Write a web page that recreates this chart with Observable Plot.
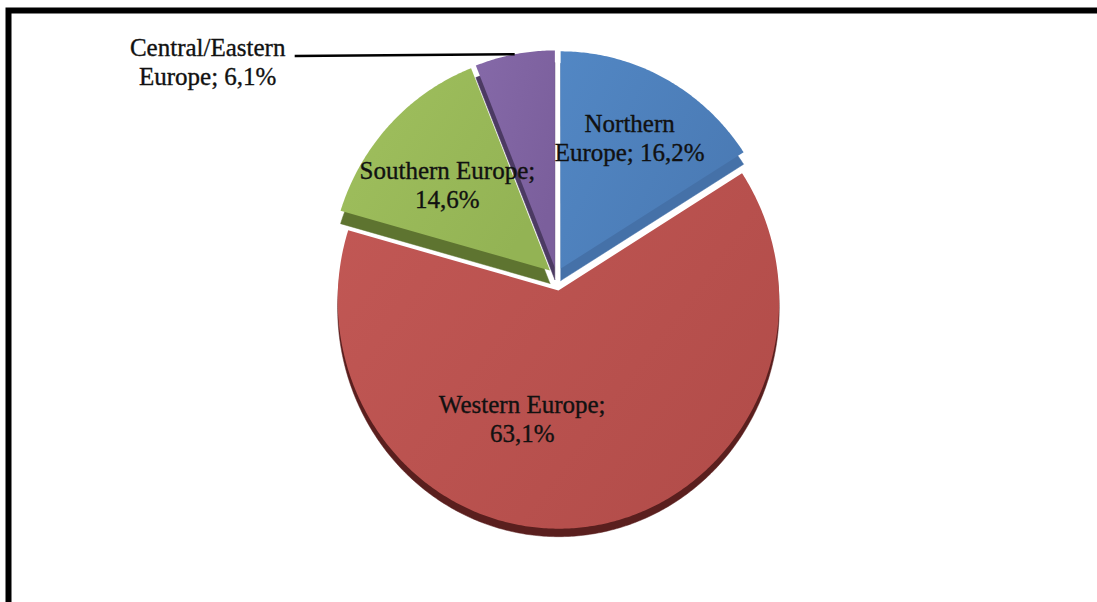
<!DOCTYPE html>
<html>
<head>
<meta charset="utf-8">
<script src="https://cdn.jsdelivr.net/npm/d3@7"></script>
<script src="https://cdn.jsdelivr.net/npm/@observablehq/plot@0.6"></script>
<style>
  html, body { margin: 0; padding: 0; background: #fff; overflow: hidden; }
</style>
</head>
<body>
<div id="chart"></div>
<script>
// ---------------- data ----------------
const regions = ["Northern Europe", "Western Europe", "Southern Europe", "Central/Eastern Europe"];
const shares = [16.2, 63.1, 14.6, 6.1];
const labelTexts = ["Northern\nEurope; 16,2%", "Western Europe;\n63,1%", "Southern Europe;\n14,6%", "Central/Eastern\nEurope; 6,1%"];

// ---------------- layout / style ----------------
const W = 1097, H = 602;
const C = {x: 556, y: 276};      // pie centre (px)
const S = {x: 220, y: 227};      // pie radii (px)
const K = 0.042;                 // slight perspective (front looks larger)
const explode = [0.04, 0.062, 0.04, 0.04];
const depthPx = [12, 8, 13, 12];
const faceGrad = [["#5287c4", "#4a7ab4"], ["#c25855", "#b34d4a"], ["#a0c05e", "#93b354"], ["#8569a8", "#7b5f9c"]];
const sideColors = ["#4571a8", "#5a1f1e", "#5e7430", "#4c3a63"];
const drawOrder = [2, 3, 0, 1];
// label placement: radius fraction & angular nudge (deg); null = outside label with leader
const labelPlace = [{r: 0.66, turn: 0}, {r: 0.586, turn: 24}, {r: 0.6, turn: -4}, null];
const insideDy = -4;
const outside = {endX: -1.19, dx: -87, dy: 5};

const project = (u, v) => { const f = 1 / (1 - K * v); return [u * f, v * f]; };

const arcs = d3.pie().sort(null).value(d => d)(shares);
const faces = [], sides = [], labels = [], leaders = [];

arcs.forEach((a, i) => {
  const m = (a.startAngle + a.endAngle) / 2;
  const ox = Math.sin(m) * explode[i], oy = -Math.cos(m) * explode[i];
  const depth = depthPx[i] / S.y;
  const raw = [[ox, oy]];
  const n = Math.max(8, Math.ceil((a.endAngle - a.startAngle) / 0.01));
  for (let k = 0; k <= n; k++) {
    const t = a.startAngle + (a.endAngle - a.startAngle) * k / n;
    raw.push([ox + Math.sin(t), oy - Math.cos(t)]);
  }
  raw.push([ox, oy]);
  raw.forEach(([u, v], j) => {
    const [x, y] = project(u, v);
    faces.push({i, j, x, y});
    sides.push({i, j, x, y: y + depth});
  });
  const lp = labelPlace[i];
  if (lp) {
    const ang = m + lp.turn * Math.PI / 180;
    const [x, y] = project(ox + lp.r * Math.sin(ang), oy - lp.r * Math.cos(ang));
    labels.push({text: labelTexts[i], x, y, dx: 0, dy: insideDy});
  } else {
    const [x1, y1] = project(ox + Math.sin(m), oy - Math.cos(m));
    const x2 = outside.endX, y2 = y1 + 0.008;
    leaders.push({x1, y1, x2, y2});
    labels.push({text: labelTexts[i], x: x2, y: y2, dx: outside.dx, dy: outside.dy});
  }
});

// gradient definitions for the slice tops (subtle Office-style shading)
const defs = () => {
  const g = d3.create("svg:defs");
  faceGrad.forEach(([c0, c1], i) => {
    const lg = g.append("linearGradient").attr("id", "face" + i)
      .attr("x1", "0").attr("y1", "0").attr("x2", "1").attr("y2", "0.6");
    lg.append("stop").attr("offset", "0%").attr("stop-color", c0);
    lg.append("stop").attr("offset", "100%").attr("stop-color", c1);
  });
  return g.node();
};

const marks = [defs];
for (const i of drawOrder) {
  marks.push(Plot.line(sides.filter(d => d.i === i), {x: "x", y: "y", fill: sideColors[i], stroke: sideColors[i], strokeWidth: 0.5}));
  marks.push(Plot.line(faces.filter(d => d.i === i), {x: "x", y: "y", fill: `url(#face${i})`, stroke: "none"}));
}
marks.push(Plot.link(leaders, {x1: "x1", y1: "y1", x2: "x2", y2: "y2", stroke: "#000", strokeWidth: 2.5}));
for (const l of labels) {
  marks.push(Plot.text([l], {
    x: "x", y: "y", text: "text", dx: l.dx, dy: l.dy,
    fontFamily: "Liberation Serif", fontSize: 25, lineHeight: 1.17,
    textAnchor: "middle", fill: "#111", stroke: "#111", strokeWidth: 0.35
  }));
}
marks.push(Plot.frame({stroke: "#000", strokeWidth: 6, insetLeft: 8, insetTop: 10, insetRight: -20, insetBottom: -20}));

const chart = Plot.plot({
  width: W, height: H,
  margin: 0,
  x: {domain: [-C.x / S.x, (W - C.x) / S.x], range: [0, W], axis: null},
  y: {domain: [-C.y / S.y, (H - C.y) / S.y], range: [0, H], axis: null},
  style: {background: "#fff"},
  marks
});
document.getElementById("chart").appendChild(chart);
</script>
</body>
</html>
